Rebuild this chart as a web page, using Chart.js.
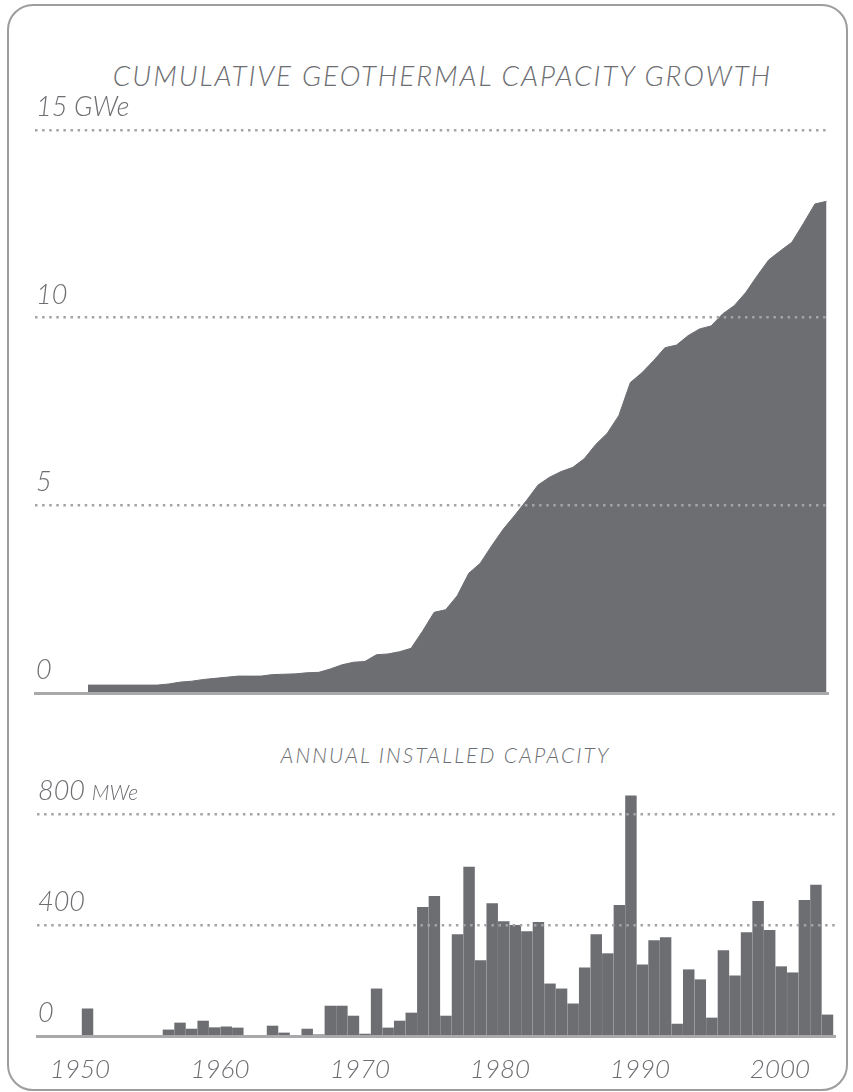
<!DOCTYPE html>
<html>
<head>
<meta charset="utf-8">
<script src="https://cdn.jsdelivr.net/npm/chart.js@4.4.1/dist/chart.umd.min.js"></script>
<style>
  body { margin: 0; background: #fff; }
  #wrap { position: relative; width: 853px; height: 1092px; overflow: hidden; }
  #frame { position: absolute; left: 7px; top: 4px; width: 841px; height: 1087px;
           box-sizing: border-box; border: 2px solid #9d9d9f; border-radius: 26px; }
  .title { position: absolute; font-family: Lato, sans-serif; font-style: italic; font-weight: 300;
           color: #6d6e72; text-align: center; white-space: nowrap; }
  #t1 { left: 16px; width: 853px; top: 58px; font-size: 28px; letter-spacing: 1.9px; }
  #t2 { left: 19px; width: 853px; top: 742px; font-size: 21px; letter-spacing: 2.1px; }
  canvas { position: absolute; left: 0; }
  #c1 { top: 0; }
  #c2 { top: 700px; }
</style>
</head>
<body>
<div id="wrap">
  <div id="frame"></div>
  <div class="title" id="t1">CUMULATIVE GEOTHERMAL CAPACITY GROWTH</div>
  <div class="title" id="t2">ANNUAL INSTALLED CAPACITY</div>
  <canvas id="c1" width="853" height="700"></canvas>
  <canvas id="c2" width="853" height="392"></canvas>
</div>
<script>
// years shown in both charts
const years = [
  1950, 1951, 1952, 1953, 1954, 1955, 1956, 1957, 1958, 1959,
  1960, 1961, 1962, 1963, 1964, 1965, 1966, 1967, 1968, 1969,
  1970, 1971, 1972, 1973, 1974, 1975, 1976, 1977, 1978, 1979,
  1980, 1981, 1982, 1983, 1984, 1985, 1986, 1987, 1988, 1989,
  1990, 1991, 1992, 1993, 1994, 1995, 1996, 1997, 1998, 1999,
  2000, 2001, 2002, 2003, 2004, 2005, 2006, 2007, 2008, 2009,
  2010, 2011, 2012, 2013, 2014
];

// cumulative capacity, GWe
const cumulativeGW = [
  0.21, 0.21, 0.21, 0.21, 0.21, 0.21, 0.21, 0.24, 0.29, 0.315,
  0.36, 0.39, 0.42, 0.45, 0.45, 0.45, 0.49, 0.50, 0.51, 0.54,
  0.55, 0.64, 0.75, 0.82, 0.84, 1.02, 1.04, 1.10, 1.19, 1.65,
  2.15, 2.22, 2.59, 3.19, 3.46, 3.93, 4.37, 4.74, 5.13, 5.54,
  5.75, 5.90, 6.01, 6.24, 6.62, 6.92, 7.39, 8.27, 8.53, 8.85,
  9.20, 9.27, 9.52, 9.70, 9.78, 10.10, 10.32, 10.67, 11.12, 11.54,
  11.78, 12.01, 12.51, 13.03, 13.10
];

// annual installed capacity, MWe
const annualMW = [
  98, 0, 0, 0, 0, 0, 0, 22, 47, 25,
  54, 30, 33, 29, 0, 0, 36, 11, 0, 25,
  3, 108, 108, 72, 7, 170, 29, 54, 83, 464,
  504, 72, 366, 609, 272, 478, 413, 399, 377, 410,
  188, 170, 116, 246, 366, 297, 471, 866, 257, 344,
  355, 43, 239, 203, 65, 308, 217, 373, 486, 381,
  250, 228, 489, 544, 76
];

const topTickValues = [0, 5, 10, 15];
const topTickLabels = ['0', '5', '10', '15 GWe'];
const barTickValues = [0, 400, 800];
const barTickLabels = ['0', '400', '800'];
const barUnit = 'MWe';
const xTickYears = [1950, 1960, 1970, 1980, 1990, 2000];

const grey = '#6d6e72';
const dotGrey = '#a4a4a6';

// draws the y labels just above their dotted lines, at the left
const yLabels = {
  id: 'yLabels',
  afterDraw(chart, args, opts) {
    const ctx = chart.ctx;
    const y = chart.scales.y;
    const left = chart.chartArea.left + 1;
    ctx.save();
    ctx.fillStyle = grey;
    ctx.textBaseline = 'alphabetic';
    ctx.textAlign = 'left';
    opts.values.forEach((v, i) => {
      const py = y.getPixelForValue(v) - 14;
      ctx.font = 'italic 300 27px Lato';
      ctx.fillText(opts.labels[i], left, py);
      if (opts.unit && i === opts.values.length - 1) {
        const w = ctx.measureText(opts.labels[i] + ' ').width;
        ctx.font = 'italic 300 21px Lato';
        ctx.fillText(opts.unit, left + w, py);
      }
    });
    ctx.restore();
  }
};

new Chart(document.getElementById('c1'), {
  type: 'line',
  data: {
    datasets: [{
      data: years.map((yr, i) => ({ x: yr, y: cumulativeGW[i] })),
      fill: 'origin',
      backgroundColor: grey,
      borderColor: grey,
      borderWidth: 1,
      pointRadius: 0,
      tension: 0
    }]
  },
  options: {
    responsive: false,
    animation: false,
    devicePixelRatio: 1,
    layout: { padding: { left: 35, right: 25, top: 130, bottom: 7 } },
    plugins: {
      legend: { display: false },
      tooltip: { enabled: false },
      yLabels: { values: topTickValues, labels: topTickLabels }
    },
    scales: {
      x: {
        type: 'linear', min: 1945.41, max: 2014.13, offset: false,
        ticks: { display: false },
        grid: { display: false },
        border: { display: true, color: '#a9a9ab', width: 3, z: 1 },
        afterFit: s => { s.height = 0; }
      },
      y: {
        min: 0, max: 15,
        afterBuildTicks: s => { s.ticks = topTickValues.map(v => ({ value: v })); },
        ticks: { display: false },
        grid: {
          color: c => c.tick && c.tick.value === 0 ? 'rgba(0,0,0,0)' : dotGrey,
          lineWidth: 2.5, drawTicks: false, z: 1
        },
        border: { display: false, dash: [2.5, 4.6] },
        afterFit: s => { s.width = 0; }
      }
    }
  },
  plugins: [yLabels]
});

new Chart(document.getElementById('c2'), {
  type: 'bar',
  data: {
    datasets: [{
      data: years.map((yr, i) => ({ x: yr, y: annualMW[i] })),
      backgroundColor: grey,
      borderWidth: 0,
      barThickness: 10.8,
      xAxisID: 'x'
    }]
  },
  options: {
    responsive: false,
    animation: false,
    devicePixelRatio: 1,
    layout: { padding: { left: 37, right: 18, top: 92, bottom: 0 } },
    plugins: {
      legend: { display: false },
      tooltip: { enabled: false },
      yLabels: { values: barTickValues, labels: barTickLabels, unit: barUnit }
    },
    scales: {
      x: {
        type: 'linear', min: 1945.63, max: 2014.65, offset: false, display: false
      },
      xl: {
        type: 'linear', position: 'bottom', min: 1946.93, max: 2003.93, offset: false,
        afterBuildTicks: s => { s.ticks = xTickYears.map(v => ({ value: v })); },
        ticks: {
          callback: v => String(v), autoSkip: false, maxRotation: 0, padding: 10,
          color: grey, font: { family: 'Lato', style: 'italic', weight: 300, size: 26 }
        },
        grid: { display: false },
        border: { display: true, color: '#a9a9ab', width: 3, z: 1 },
        afterFit: s => { s.height = 56; }
      },
      y: {
        min: 0, max: 880,
        afterBuildTicks: s => { s.ticks = barTickValues.map(v => ({ value: v })); },
        ticks: { display: false },
        grid: {
          color: c => c.tick && c.tick.value === 0 ? 'rgba(0,0,0,0)' : dotGrey,
          lineWidth: 2.5, drawTicks: false, z: 1
        },
        border: { display: false, dash: [2.5, 4.6] },
        afterFit: s => { s.width = 0; }
      }
    }
  },
  plugins: [yLabels]
});
</script>
</body>
</html>
